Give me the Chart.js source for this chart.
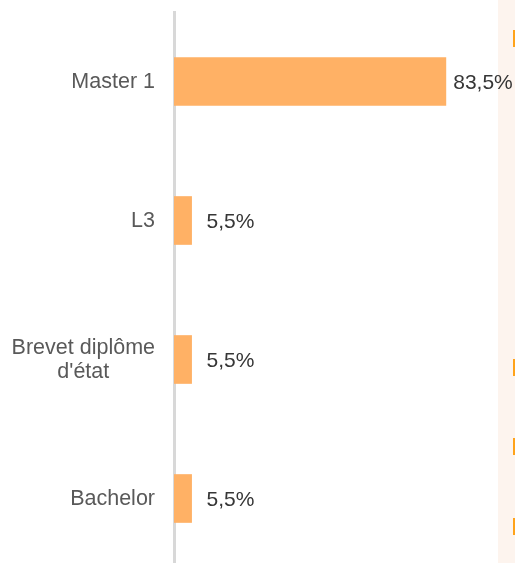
<!DOCTYPE html>
<html lang="fr">
<head>
<meta charset="utf-8">
<title>Diplômes</title>
<script src="https://cdn.jsdelivr.net/npm/chart.js@4.4.1/dist/chart.umd.min.js"></script>
<style>
    html, body { margin: 0; padding: 0; background: #ffffff; overflow: hidden; }
    #wrap { position: relative; width: 515px; height: 563px; overflow: hidden; }
    /* bord de la colonne voisine, visible à droite */
    #side { position: absolute; left: 498px; top: 0; width: 17px; height: 563px; background: #fdf4ee; }
    #side i { position: absolute; right: 0; width: 2px; height: 17px; background: #ffa31a; }
    #box { position: absolute; left: 0; top: 0; width: 515px; height: 568px; }
</style>
</head>
<body>
<div id="wrap">
    <div id="side">
        <i style="top:30px"></i>
        <i style="top:359px"></i>
        <i style="top:438px"></i>
        <i style="top:518px"></i>
    </div>
    <div id="box"><canvas id="chart"></canvas></div>
</div>
<script>
'use strict';

const categories = [['Master 1'], ['L3'], ['Brevet diplôme', 'd\'état'], ['Bachelor']];
const shares = [83.5, 5.5, 5.5, 5.5];
const valueLabels = ['83,5%', '5,5%', '5,5%', '5,5%'];

const FONT = '"Liberation Sans", Arial, sans-serif';

// Libellés de catégories : alignés à droite, lignes centrées entre elles
const categoryLabels = {
    id: 'categoryLabels',
    afterDraw(chart) {
        const ctx = chart.ctx;
        const y = chart.scales.y;
        const right = chart.chartArea.left - 19;
        ctx.save();
        ctx.font = '21.5px ' + FONT;
        ctx.fillStyle = '#595959';
        ctx.textAlign = 'center';
        ctx.textBaseline = 'middle';
        categories.forEach((lines, i) => {
            const cy = y.getPixelForValue(i) + 1;
            const w = Math.max(...lines.map(l => ctx.measureText(l).width));
            const lh = 24;
            const y0 = cy - (lines.length - 1) * lh / 2;
            lines.forEach((l, k) => ctx.fillText(l, right - w / 2, y0 + k * lh));
        });
        ctx.restore();
    }
};

// Valeurs à droite des barres
const valueTags = {
    id: 'valueTags',
    afterDatasetsDraw(chart) {
        const ctx = chart.ctx;
        const meta = chart.getDatasetMeta(0);
        const minX = chart.scales.x.getPixelForValue(10);
        ctx.save();
        ctx.font = '21px ' + FONT;
        ctx.fillStyle = '#363636';
        ctx.textAlign = 'left';
        ctx.textBaseline = 'middle';
        meta.data.forEach((bar, i) => {
            ctx.fillText(valueLabels[i], Math.max(bar.x + 7, minX), bar.y + 2);
        });
        ctx.restore();
    }
};

new Chart(document.getElementById('chart').getContext('2d'), {
    type: 'bar',
    data: {
        labels: categories,
        datasets: [{
            data: shares,
            backgroundColor: '#ffb165',
            borderWidth: 0,
            categoryPercentage: 1,
            barPercentage: 0.35
        }]
    },
    options: {
        indexAxis: 'y',
        responsive: true,
        maintainAspectRatio: false,
        animation: false,
        layout: { padding: { left: 0, right: 15, top: 12, bottom: 0 } },
        plugins: { legend: { display: false }, tooltip: { enabled: false } },
        scales: {
            x: { min: 0, max: 100, display: false },
            y: {
                grid: { display: false },
                border: { display: true, color: '#d8d8d8', width: 3 },
                ticks: { display: false },
                afterFit(scale) { scale.width = 174; }
            }
        }
    },
    plugins: [categoryLabels, valueTags]
});
</script>
</body>
</html>
